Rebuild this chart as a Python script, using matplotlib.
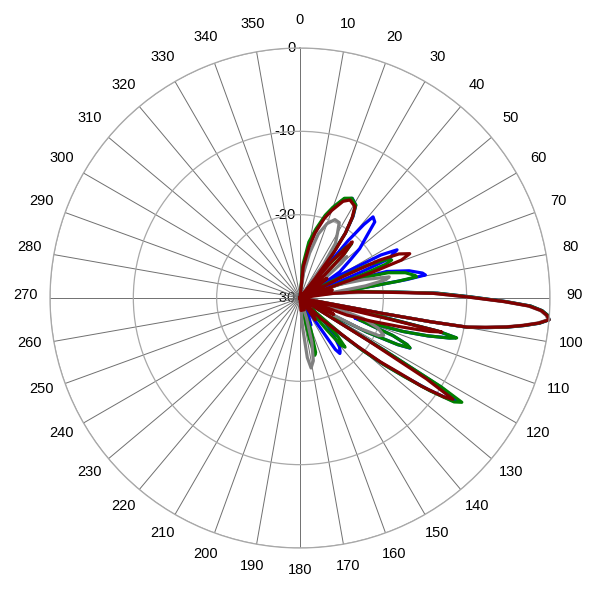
import numpy as np
import matplotlib
matplotlib.use("Agg")
import matplotlib.pyplot as plt
from matplotlib.transforms import offset_copy

plt.rcParams['font.family'] = ['Liberation Sans', 'DejaVu Sans']

# (angulo en grados desde el norte, horario ; nivel en dB)
azul = [(0, -30), (3, -30), (6, -26), (10, -23.5), (13, -21.8), (17, -19.8), (20, -18.5), (24, -17),
        (27.7, -16.5), (31, -17), (33, -18.3), (35, -20.5), (36.5, -23.5), (38, -30), (38.5, -30),
        (40, -21), (41, -18.3), (42, -16.9), (44.5, -17.2), (47, -19), (50.4, -20.7), (53, -22.5),
        (56.7, -24.3), (59, -27), (60.5, -24), (62, -19), (63.6, -17), (65, -17.8), (66.2, -18.2),
        (67, -22), (68, -27), (70, -25), (73, -19.1), (76, -16.5), (78.5, -15), (79.6, -14.7),
        (80.2, -17), (80.6, -21), (81.5, -26), (84, -23), (86, -19.5), (88, -13.5), (89.6, -9.6),
        (91, -5.3), (92, -2.3), (93, -0.9), (94, -0.2), (95, 0), (96, -1.1), (97, -2.9), (98, -4.9),
        (99, -7.3), (99.9, -9.5), (100.3, -14), (100.6, -20), (101.2, -28), (102.5, -22), (103.5, -13),
        (104.3, -10.7), (105, -11.5), (106.5, -14), (108, -17), (109, -20), (110, -23), (110.5, -22),
        (112, -18), (113.5, -16), (114.5, -15.5), (115.5, -17), (117, -21), (118, -26), (120, -30),
        (121, -30), (121.8, -18), (122.3, -10), (123, -7.2), (124, -8), (125.5, -11), (127, -14.5),
        (128.5, -17.3), (130, -20.5), (132, -24), (133.5, -26.5), (135, -25.5), (137, -24.5),
        (139, -23.5), (141, -22.5), (143, -22), (144.3, -21.8), (145.5, -22.5), (146.2, -26),
        (147, -30), (152, -30), (155, -27.5), (158, -26.5), (160, -27), (162, -30), (360, -30)]

verde = [(0, -30), (2, -30), (5, -26), (9, -23.2), (13, -21.5), (17, -19.6), (20, -18.4), (24, -16.9),
         (27.5, -16.5), (31, -17), (33, -18.4), (35, -20.5), (36.5, -23.5), (38, -28), (39, -30),
         (40, -26), (42, -22), (43.5, -21), (45, -22.5), (47, -26), (49, -30), (60, -30), (62, -26),
         (64, -21), (66, -18.6), (67.5, -18.1), (68.5, -19), (69.5, -22), (70.5, -26), (72, -22),
         (74, -19), (76.5, -17), (79, -15.9), (79.7, -15.8), (80.3, -18), (80.8, -22), (81.5, -26),
         (84, -22.5), (86, -19.3), (88, -13.5), (89.6, -9.6), (91, -5.3), (92, -2.3), (93, -0.9),
         (94, -0.2), (95, 0), (96, -1.1), (97, -2.9), (98, -4.9), (99, -7.3), (99.9, -9.5),
         (100.3, -14), (100.6, -20), (101.2, -28), (102.5, -22), (103.5, -13), (104.3, -10.6),
         (105, -11.4), (106.5, -14), (108, -17), (109, -20), (110, -22.5), (111, -21), (112, -18),
         (113.5, -16), (114.4, -15.5), (115.5, -17), (117, -21), (118, -26), (120, -30), (121, -30),
         (121.8, -18), (122.2, -10), (122.8, -6.9), (124, -7.7), (125.5, -10.8), (127, -14.3),
         (128.5, -17.2), (130, -20.3), (131.5, -23.5), (133, -28), (134, -26), (135.5, -23.5),
         (137.5, -22), (139, -22.5), (140, -25), (141, -30), (158, -30), (161, -26), (164, -23.2),
         (165.5, -22.9), (167, -25), (169, -30), (360, -30)]

gris = [(0, -30), (5, -30), (8, -27), (12, -24.5), (16, -22), (20, -20.5), (24, -19.7), (27.5, -19.8),
        (30, -21), (33, -22.2), (35, -25), (37, -30), (42, -30), (44, -26), (46.5, -23.5),
        (48.5, -22.5), (50, -23.5), (52, -26.5), (54, -30), (68, -30), (71, -25), (74, -22),
        (76.7, -19), (78, -19.5), (79.5, -22), (81, -27), (83, -25), (86, -19.5), (88, -14),
        (89.6, -10), (91, -5.6), (92, -2.6), (93, -1.1), (94, -0.4), (95, -0.1), (96, -1.3),
        (97, -3.1), (98, -5.1), (99, -7.6), (99.9, -9.8), (100.3, -14), (100.6, -20), (101.2, -30),
        (104, -30), (106, -25), (108, -22), (111, -20), (114, -19), (115.5, -19.5), (117, -22),
        (118.5, -30), (159, -30), (162, -27.5), (165, -24.5), (168, -22.3), (171, -21.5),
        (173, -22.8), (175, -26.5), (177, -30), (360, -30)]

rojo = [(0, -30), (3, -30), (6, -26.2), (10, -23.8), (13, -22), (17, -20), (20, -18.8), (24, -17.3),
        (27, -16.8), (31, -17.2), (33, -18.5), (35, -20.5), (36.5, -23), (38, -27), (39, -30),
        (41, -24), (43, -20.8), (45, -22.5), (47, -26), (49, -30), (51, -27), (54, -26), (57, -27.5),
        (60, -30), (62, -30), (63.5, -24), (64.5, -19.5), (66, -17), (68, -15.8), (69.5, -17),
        (70.5, -21), (71.5, -30), (73, -27), (76, -26), (78, -28), (80, -30),
        (82, -26), (84, -23), (86, -20), (88, -14), (89.6, -10), (91, -5.5), (92, -2.5), (93, -1),
        (94, -0.3), (95, 0), (96, -1.2), (97, -3), (98, -5), (99, -7.5), (99.9, -9.7), (100.3, -14),
        (100.6, -20), (101.2, -30), (103, -30), (103.3, -20), (103.5, -12.5), (104.5, -14),
        (106, -17.5), (108, -21), (110, -24), (112, -30), (114, -26.5), (116, -25.5), (119, -30),
        (121, -30), (122, -20), (122.6, -12),
        (123.5, -8), (124.5, -9), (126, -12), (127, -15), (128.5, -17.7), (130, -21), (132, -24.5),
        (135, -26.6), (138, -30), (141, -27.5), (145, -26.8), (150, -30), (160, -28.5),
        (175, -28.5), (190, -30), (360, -30)]

series = [(azul, '#0000ff'), (verde, '#008000'), (gris, '#808080'), (rojo, '#800000')]

angulos_etiquetas = list(range(0, 360, 10))
radios = [0, -10, -20, -30]

fig = plt.figure(figsize=(6, 6), dpi=100)
ax = fig.add_axes([50 / 600, 52 / 600, 500 / 600, 500 / 600], projection='polar')
ax.set_theta_zero_location('N')
ax.set_theta_direction(-1)
ax.set_rlim(-30, 0)

ax.set_thetagrids(angulos_etiquetas, [''] * len(angulos_etiquetas))
ax.set_rgrids([-20, -10, 0], ['', '', ''])
ax.xaxis.grid(True, color='#707070', linewidth=0.7)
ax.yaxis.grid(True, color='#a8a8a8', linewidth=0.9)
ax.spines['polar'].set_color('#a8a8a8')
ax.spines['polar'].set_linewidth(0.9)

for datos, color in series:
    d = np.array(datos, dtype=float)
    ax.plot(np.deg2rad(d[:, 0]), np.clip(d[:, 1], -30, 0), color=color, linewidth=2.3,
            clip_on=False)

# etiquetas de angulo alrededor
arriba = offset_copy(ax.transData, fig=fig, x=0, y=2, units='points')
for a in angulos_etiquetas:
    ax.text(np.deg2rad(a), 3.0, str(a), ha='center', va='center', fontsize=10.5,
            transform=arriba)

# etiquetas radiales junto al radio de 0 grados
izq = offset_copy(ax.transData, fig=fig, x=-3, y=0, units='points')
for r in radios:
    ax.text(0, r, str(r), ha='right', va='center', fontsize=10.5, transform=izq, zorder=1)

fig.savefig('out.png', dpi=100)
